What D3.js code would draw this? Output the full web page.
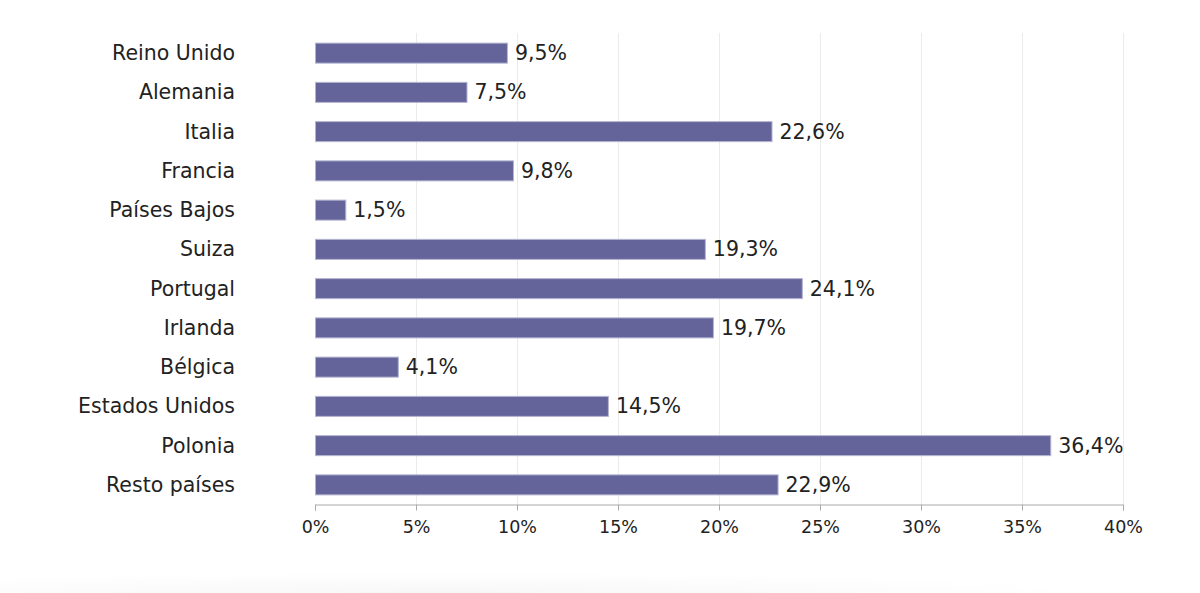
<html>
<head>
<meta charset="utf-8">
<style>
  body { margin: 0; background: #fff; }
  text { font-family: "DejaVu Sans", Verdana, sans-serif; fill: #222; }
</style>
</head>
<body>
<svg width="1200" height="593"></svg>
<script src="https://d3js.org/d3.v7.min.js"></script>
<script>
var countries = ["Reino Unido", "Alemania", "Italia", "Francia", "Países Bajos", "Suiza",
                 "Portugal", "Irlanda", "Bélgica", "Estados Unidos", "Polonia", "Resto países"];
var values = [9.5, 7.5, 22.6, 9.8, 1.5, 19.3, 24.1, 19.7, 4.1, 14.5, 36.4, 22.9];
var xTicks = [0, 5, 10, 15, 20, 25, 30, 35, 40];

var svg = d3.select("svg");

// faint shadow band at the bottom
var defs = svg.append("defs");
var grad = defs.append("radialGradient")
  .attr("id", "shade").attr("cx", 0.4).attr("cy", 1).attr("r", 0.6);
grad.append("stop").attr("offset", "0%").attr("stop-color", "#f7f7f7");
grad.append("stop").attr("offset", "100%").attr("stop-color", "#fff");
svg.append("rect").attr("x", 0).attr("y", 560).attr("width", 1100).attr("height", 33)
  .attr("fill", "url(#shade)");

var x = d3.scaleLinear().domain([0, 40]).range([315, 1123]);
var y = d3.scaleBand().domain(countries).range([33, 504]).paddingInner(0.49).paddingOuter(0.245);

// grid
svg.append("g").selectAll("line").data(xTicks.slice(1)).enter().append("line")
  .attr("x1", d => x(d) + 0.5).attr("x2", d => x(d) + 0.5)
  .attr("y1", 33).attr("y2", 504)
  .attr("stroke", "#ebebeb").attr("stroke-width", 1);

// x axis
var xAxis = svg.append("g").attr("transform", "translate(0,504.5)")
  .call(d3.axisBottom(x).tickValues(xTicks).tickSize(6).tickPadding(10).tickFormat(d => d + "%"));
xAxis.select(".domain").attr("stroke", "#aaa");
xAxis.selectAll(".tick line").attr("stroke", "#aaa");
xAxis.selectAll("text").style("font-size", "17.5px").attr("fill", "#222");

// bars
svg.append("g").selectAll("rect").data(values).enter().append("rect")
  .attr("x", x(0) + 0.5)
  .attr("y", (d, i) => y(countries[i]) + 0.5)
  .attr("width", d => x(d) - x(0))
  .attr("height", y.bandwidth())
  .attr("fill", "#64649a")
  .attr("stroke", "#b4b4d2")
  .attr("stroke-width", 1);

// value labels
svg.append("g").selectAll("text").data(values).enter().append("text")
  .attr("x", d => x(d) + 8)
  .attr("y", (d, i) => y(countries[i]) + y.bandwidth() / 2)
  .attr("dy", "0.36em")
  .style("font-size", "20.5px")
  .text(d => d.toFixed(1).replace(".", ",") + "%");

// category labels
svg.append("g").selectAll("text").data(countries).enter().append("text")
  .attr("x", 235)
  .attr("y", d => y(d) + y.bandwidth() / 2)
  .attr("dy", "0.36em")
  .attr("text-anchor", "end")
  .style("font-size", "20.5px")
  .text(d => d);
</script>
</body>
</html>
